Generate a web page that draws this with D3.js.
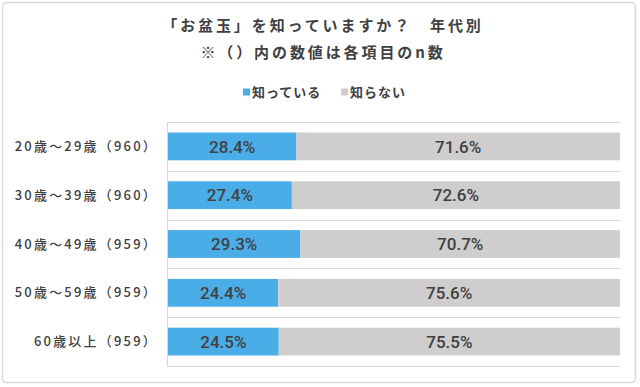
<!DOCTYPE html>
<html><head><meta charset="utf-8">
<script src="https://cdn.jsdelivr.net/npm/d3@7"></script>
<style>
html,body{margin:0;padding:0;background:#fff;}
svg{display:block;}
</style></head>
<body>
<svg id="chart" width="640" height="387"></svg>
<script>
const categories = ["20歳～29歳（960）","30歳～39歳（960）","40歳～49歳（959）","50歳～59歳（959）","60歳以上（959）"];
const seriesNames = ["知っている","知らない"];
const known = [28.4, 27.4, 29.3, 24.4, 24.5];
const unknown = [71.6, 72.6, 70.7, 75.6, 75.5];
const colors = ["#4BADE8", "#CFCDCE"];
const titleLines = ["「お盆玉」を知っていますか？　年代別", "※（）内の数値は各項目のn数"];

const svg = d3.select("#chart");
const textColor = "#404040";
const jp = "'Noto Sans CJK JP','Noto Sans',sans-serif";

svg.append("rect").attr("x",2.5).attr("y",2.5).attr("width",633).attr("height",380)
  .attr("rx",4).attr("fill","#fff").attr("stroke","#D9D9D9").attr("stroke-width",1.5);

const plot = {left:168, right:620, top:122, bottom:366};
const x = d3.scaleLinear().domain([0,100]).range([plot.left, plot.right]);
const y = d3.scaleBand().domain(categories).range([plot.top, plot.bottom]).paddingInner(0.43).paddingOuter(0.215);
const step = y.step();

// gridlines at category boundaries
const g = svg.append("g");
d3.range(categories.length+1).forEach(i=>{
  const yy = Math.round(plot.top + i*step) + 0.5;
  g.append("line").attr("x1",plot.left-0.5).attr("x2",plot.right).attr("y1",yy).attr("y2",yy)
   .attr("stroke","#D9D9D9").attr("stroke-width",1.2);
});
g.append("line").attr("x1",plot.left-0.5).attr("x2",plot.left-0.5).attr("y1",plot.top).attr("y2",plot.bottom+0.5)
  .attr("stroke","#D9D9D9").attr("stroke-width",1.2);

// stacked bars
const rows = categories.map((c,i)=>({cat:c, vals:[known[i], unknown[i]]}));
rows.forEach(r=>{
  let acc = 0;
  r.vals.forEach((v,j)=>{
    const x0 = x(acc), x1 = x(acc+v);
    svg.append("rect").attr("x",x0).attr("y",y(r.cat)).attr("width",x1-x0).attr("height",y.bandwidth())
      .attr("fill",colors[j]);
    svg.append("text").attr("x",(x0+x1)/2).attr("y",y(r.cat)+y.bandwidth()/2)
      .attr("dy","0.36em").attr("text-anchor","middle")
      .attr("font-family","Roboto,'Liberation Sans',Arial,sans-serif").attr("font-size",17).attr("font-weight",500)
      .attr("fill",textColor).text(v.toFixed(1)+"%");
    acc += v;
  });
});

// category labels
const yAxis = d3.axisLeft(y).tickSize(0).tickPadding(0);
const ax = svg.append("g").attr("transform",`translate(158,0)`).call(yAxis);
ax.select(".domain").remove();
ax.selectAll("text").attr("font-family",jp).attr("font-size",13).attr("font-weight",500)
  .attr("fill",textColor).attr("letter-spacing","2.2px").attr("dy","0.36em");

// title
titleLines.forEach((t,i)=>{
  svg.append("text").attr("x",323).attr("y",[26,53][i]).attr("dy","0.36em")
    .attr("text-anchor","middle").attr("font-family",jp).attr("font-size",15).attr("font-weight",700)
    .attr("letter-spacing","2.9px").attr("fill",textColor).text(t);
});

// legend
const legendItems = [{x:243, name:seriesNames[0], c:colors[0]},{x:341, name:seriesNames[1], c:colors[1]}];
legendItems.forEach(d=>{
  svg.append("rect").attr("x",d.x).attr("y",88.5).attr("width",7).attr("height",7).attr("fill",d.c);
  svg.append("text").attr("x",d.x+9).attr("y",92).attr("dy","0.36em")
    .attr("font-family",jp).attr("font-size",13).attr("font-weight",700).attr("letter-spacing","1px")
    .attr("fill",textColor).text(d.name);
});
</script>
</body></html>
